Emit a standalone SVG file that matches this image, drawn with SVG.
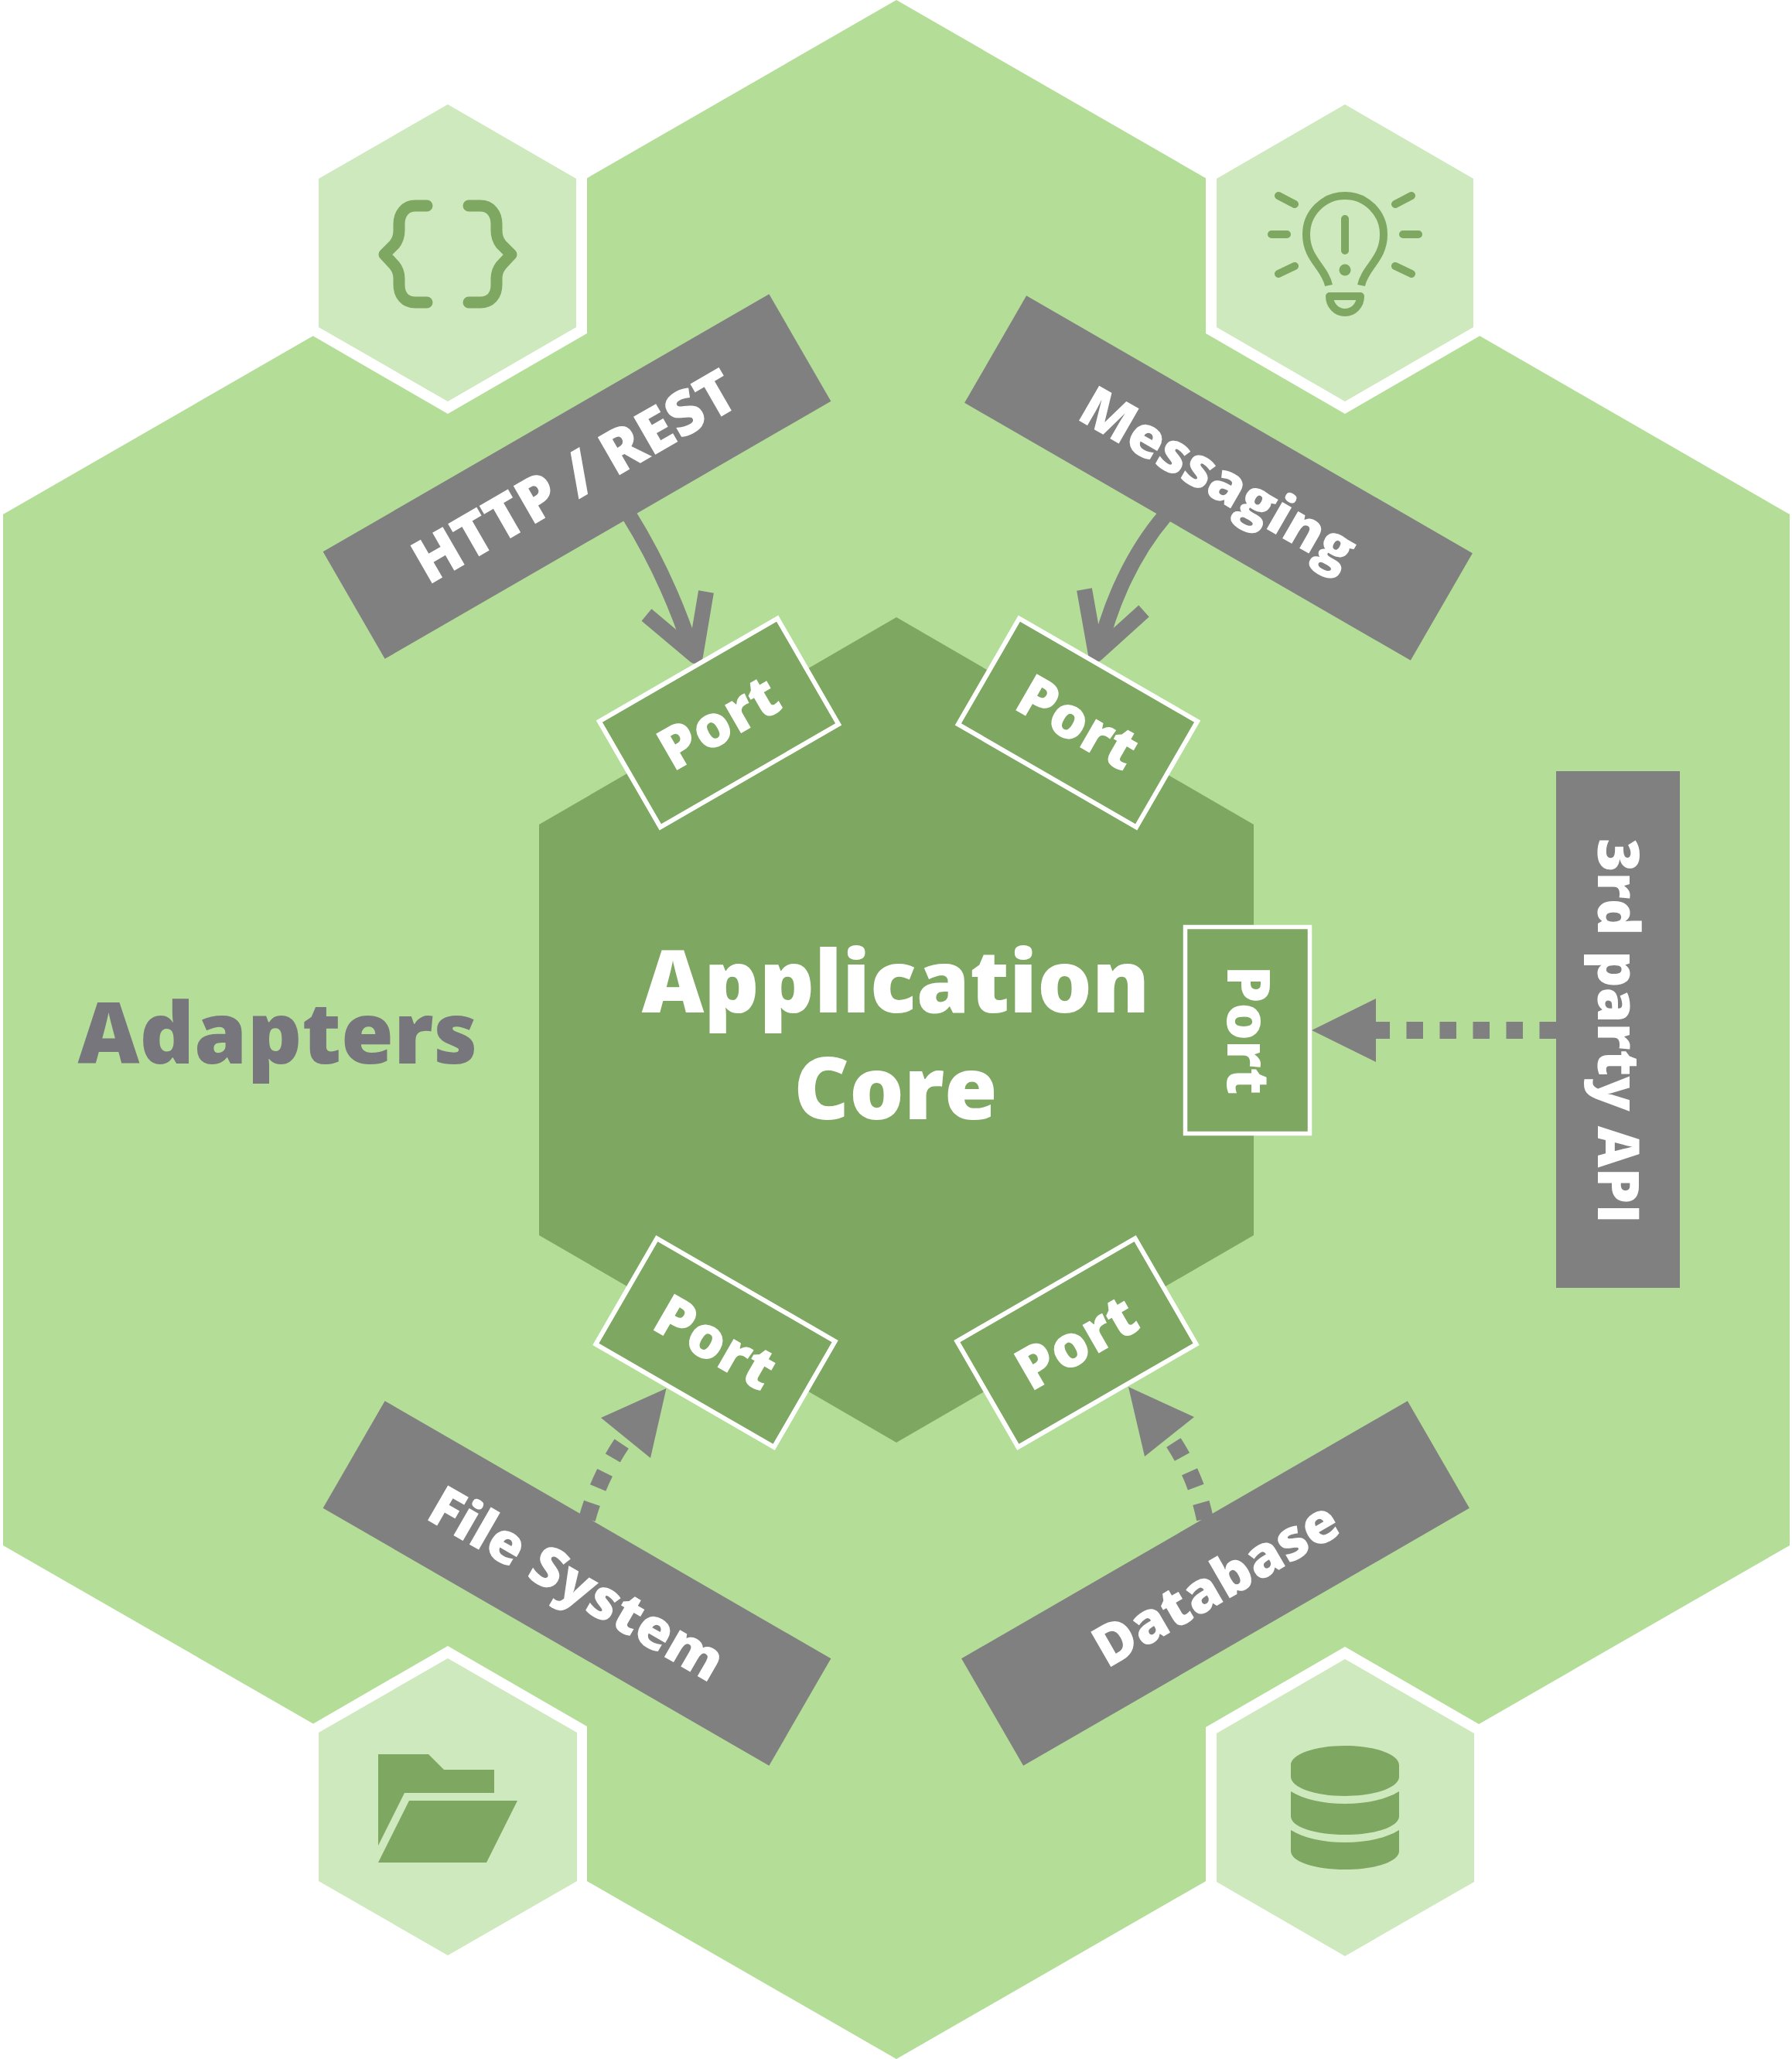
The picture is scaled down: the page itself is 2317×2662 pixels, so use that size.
<svg xmlns="http://www.w3.org/2000/svg" width="2317" height="2662" viewBox="0 0 2317 2662">
<style>
text{font-family:"Open Sans","Liberation Sans",sans-serif;font-weight:800;text-anchor:middle}
.w{fill:#fff}
.lbl{font-size:73px}
.pl{font-size:76px}
.big{font-size:111px}
.ad{fill:#76767c;font-size:110px}
.bar{fill:#808080}
.port{fill:#7ea761;stroke:#fff;stroke-width:6}
.pale{fill:#cee9bd}
.halo{fill:#fff}
.ic{fill:#7ea761}
.ics{fill:none;stroke:#7ea761;stroke-width:10;stroke-linecap:round;stroke-linejoin:round}
.solid{fill:none;stroke:#808080;stroke-width:20}
.chev{fill:none;stroke:#808080;stroke-width:20;stroke-linejoin:round}
.dot{fill:none;stroke:#808080;stroke-width:22;stroke-dasharray:21.5 21.5}
.head{fill:#808080}
</style>
<g id="adapters">
<polygon points="1159,0 2314,665 2314,1998 1159,2662 4,1998 4,665" fill="#b4dd98"/>
<text class="ad" x="359" y="1375">Adapters</text>
</g>
<g id="core">
<polygon points="1159,798 1621,1066 1621,1597 1159,1865 697,1597 697,1066" fill="#7ea761"/>
<text class="big w" x="1158" y="1309">Application</text>
<text class="big w" x="1158" y="1447">Core</text>
</g>
<g id="hex-code">
<polygon class="halo" points="579,119 759,223 759,431 579,535 399,431 399,223"/>
<polygon class="pale" points="579,135 745,231 745,423 579,519 412,423 412,231"/>
<path fill="none" stroke="#7ea761" stroke-width="15" stroke-linecap="round" stroke-linejoin="round" d="M552 266H537C524 266 516 276 516 290V298C516 306 514 311 510 316L497 329L510 343C514 348 516 353 516 360V368C516 382 524 391 537 391H552M606 266H621C634 266 642 276 642 290V298C642 306 644 311 648 316L661 329L648 343C644 348 642 353 642 360V368C642 382 634 391 621 391H606"/>
</g>
<g id="hex-idea">
<polygon class="halo" points="1739,119 1919,223 1919,431 1739,535 1559,431 1559,223"/>
<polygon class="pale" points="1739,135 1905,231 1905,423 1739,519 1573,423 1573,231"/>
<path class="ics" d="M1644 303H1664M1814 303H1834M1653 253L1674 264M1825 253L1804 264M1653 354L1674 344M1825 354L1804 344M1739 283V324M1719 383H1759C1759 395 1750 404 1739 404C1728 404 1719 395 1719 383Z"/>
<path class="ics" style="stroke-linecap:butt" d="M1718 369C1713 345 1689 335 1689 303A50 50 0 0 1 1789 303C1789 335 1765 345 1760 369"/>
<circle class="ic" cx="1739" cy="349" r="7.5"/>
</g>
<g id="hex-folder">
<polygon class="halo" points="579,2128 759,2232 759,2440 579,2544 399,2440 399,2232"/>
<polygon class="pale" points="579,2144 746,2240 746,2432 579,2528 412,2432 412,2240"/>
<path class="ic" d="M489 2268H554L574 2288H639V2318H523L489 2386ZM529 2328H669L629 2408H489Z"/>
</g>
<g id="hex-database">
<polygon class="halo" points="1739,2129 1919,2233 1919,2441 1739,2545 1559,2441 1559,2233"/>
<polygon class="pale" points="1739,2145 1906,2241 1906,2433 1739,2529 1573,2433 1573,2241"/>
<path class="ic" d="M1669 2282C1669 2268 1700 2257 1739 2257C1778 2257 1809 2268 1809 2282V2297C1809 2311 1778 2322 1739 2322C1700 2322 1669 2311 1669 2297ZM1669 2316C1685 2326 1710 2332 1739 2332C1768 2332 1793 2326 1809 2316V2348C1809 2362 1778 2372 1739 2372C1700 2372 1669 2362 1669 2348ZM1669 2366C1685 2376 1710 2382 1739 2382C1768 2382 1793 2376 1809 2366V2393C1809 2407 1778 2417 1739 2417C1700 2417 1669 2407 1669 2393Z"/>
</g>
<g id="connectors">
<path class="solid" d="M814 667C850 725 878 790 896 846"/>
<path class="chev" d="M836 795L899 848L913 765"/>
<path class="solid" d="M1506 667C1465 715 1435 780 1420 846"/>
<path class="chev" d="M1402 762L1417 846L1479 790"/>
<path class="dot" d="M2012 1332H1779"/>
<polygon class="head" points="1696,1332 1779,1291 1779,1373"/>
<path class="dot" d="M759 1964Q775 1907 809 1859"/>
<polygon class="head" points="861.5,1795 777,1833 841,1885"/>
<path class="dot" d="M1558 1964Q1546 1906 1512 1857"/>
<polygon class="head" points="1459,1793 1544,1832 1480,1883"/>
</g>
<g id="port-http"><g transform="translate(929.5 934.5) rotate(-30)"><rect class="port" x="-133" y="-79" width="266" height="158"/><text class="pl w" y="26">Port</text></g></g>
<g id="port-messaging"><g transform="translate(1393.5 934.5) rotate(30)"><rect class="port" x="-133" y="-79" width="266" height="158"/><text class="pl w" y="26">Port</text></g></g>
<g id="port-api"><g transform="translate(1613 1332) rotate(90)"><rect class="port" x="-133.5" y="-80.5" width="267" height="161" style="stroke-width:5.5"/><text class="pl w" y="26">Port</text></g></g>
<g id="port-file"><g transform="translate(925 1736) rotate(30)"><rect class="port" x="-133" y="-79" width="266" height="158"/><text class="pl w" y="26">Port</text></g></g>
<g id="port-db"><g transform="translate(1392 1736) rotate(-30)"><rect class="port" x="-133" y="-79" width="266" height="158"/><text class="pl w" y="26">Port</text></g></g>
<g id="http"><g transform="translate(746 616) rotate(-30)"><rect class="bar" x="-333" y="-80" width="666" height="160"/><text class="lbl w" x="-3" y="26" style="font-size:79px">HTTP / REST</text></g></g>
<g id="messaging"><g transform="translate(1575.5 618) rotate(30)"><rect class="bar" x="-333" y="-80" width="666" height="160"/><text class="lbl w" y="26">Messaging</text></g></g>
<g id="file"><g transform="translate(746 2047) rotate(30)"><rect class="bar" x="-333" y="-80" width="666" height="160"/><text class="lbl w" y="26">File System</text></g></g>
<g id="database"><g transform="translate(1571.5 2047) rotate(-30)"><rect class="bar" x="-333" y="-80" width="666" height="160"/><text class="lbl w" y="26">Database</text></g></g>
<g id="api"><g transform="translate(2092 1331) rotate(90)"><rect class="bar" x="-334" y="-80" width="668" height="160"/><text class="lbl w" x="2" y="26" style="font-size:74px">3rd party API</text></g></g>
</svg>
